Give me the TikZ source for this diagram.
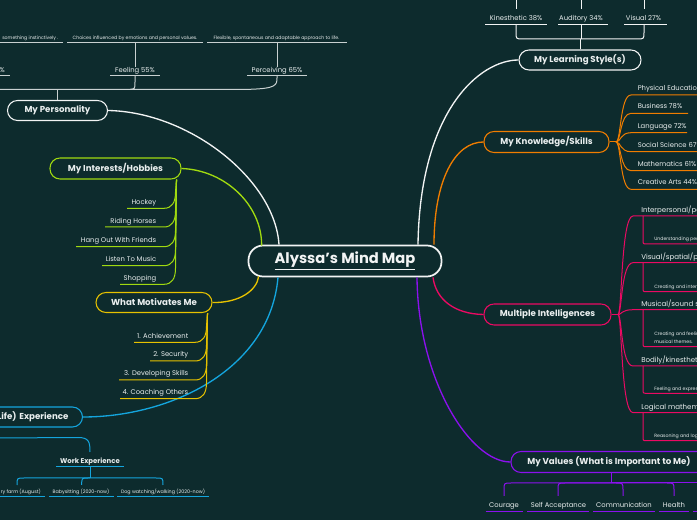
\documentclass[tikz,border=0pt]{standalone}
\usepackage{fontspec}
\setmainfont{Poppins}
\usetikzlibrary{calc}
\definecolor{bg}{HTML}{0D2B2D}
\definecolor{txt}{HTML}{E9EEEE}
\definecolor{cWhite}{HTML}{F2F4F4}
\definecolor{cGray}{HTML}{C9D1D1}
\definecolor{cLime}{HTML}{A0DA10}
\definecolor{cYellow}{HTML}{E6C200}
\definecolor{cBlue}{HTML}{14A5DD}
\definecolor{cOrange}{HTML}{F07D00}
\definecolor{cPink}{HTML}{EB0A63}
\definecolor{cPurple}{HTML}{8B11EE}
\tikzset{
 branch/.style={draw, rounded corners=7.5pt, line width=0.8pt, fill=bg, text=txt, font=\fontsize{6.5}{7.5}\selectfont\bfseries, inner sep=0pt, minimum height=15pt},
 item/.style={text=txt, font=\fontsize{5.1}{6}\selectfont, inner sep=0pt},
 head/.style={text=txt, font=\fontsize{5.3}{6}\selectfont, inner sep=0pt, anchor=mid west},
 tiny/.style={text=txt, font=\fontsize{3.5}{4.5}\selectfont, inner sep=0pt},
 conn/.style={line width=1pt},
 sub/.style={line width=0.75pt},
}
\begin{document}
\begin{tikzpicture}[x=0.75pt,y=-0.75pt]
\fill[bg] (0,0) rectangle (697,520);
\useasboundingbox (0,0) rectangle (697,520);
\clip (0,0) rectangle (697,520);

% ---------- central node
\node[draw=cWhite, line width=1.3pt, rounded corners=11pt, minimum width=144.75pt, minimum height=23.25pt, fill=bg, text=cWhite, inner sep=0pt, font=\fontsize{11}{12}\selectfont\bfseries] (ctr) at (345,261) {\underline{Alyssa’s Mind Map}};

% ---------- main branch boxes
\node[branch, draw=cWhite, minimum width=75pt] (pers) at (57.5,110.5) {My Personality};
\node[branch, draw=cWhite, minimum width=91.5pt] (learn) at (580,60) {My Learning Style(s)};
\node[branch, draw=cLime, minimum width=98.25pt, minimum height=15.75pt] (hobby) at (115.5,168.5) {My Interests/Hobbies};
\node[branch, draw=cYellow, minimum width=87pt] (motiv) at (154,302.5) {What Motivates Me};
\node[branch, draw=cBlue, anchor=east, inner xsep=10.5pt, text width=130pt, align=right] (exper) at (83,417) {(Life) Experience};
\node[branch, draw=cOrange, minimum width=93.75pt, minimum height=15.75pt] (know) at (546.5,142) {My Knowledge/Skills};
\node[branch, draw=cPink, minimum width=95.25pt, minimum height=15.75pt] (intel) at (547.5,314.5) {Multiple Intelligences};
\node[branch, draw=cPurple, minimum width=147pt, minimum height=15.75pt] (values) at (609,462) {My Values (What is Important to Me)};

% ---------- connectors to centre
\draw[conn, cWhite] (pers.east) .. controls (190,112) and (275,180) .. ($(ctr.north)+(-66,0)$);
\draw[conn, cWhite] (learn.west) .. controls (480,60) and (420,110) .. ($(ctr.north)+(73,0)$);
\draw[conn, cLime] (hobby.east) .. controls (225,170) and (262,205) .. ($(ctr.north west)+(14,1)$);
\draw[conn, cYellow] (motiv.east) .. controls (240,303) and (257,290) .. ($(ctr.south west)+(11,-1)$);
\draw[conn, cBlue] (exper.east) .. controls (170,417) and (270,370) .. ($(ctr.south)+(-67,0)$);
\draw[conn, cOrange] (know.west) .. controls (455,142) and (434,180) .. ($(ctr.north)+(89,0)$);
\draw[conn, cPink] (intel.west) .. controls (455,314) and (436,300) .. ($(ctr.south)+(88,0)$);
\draw[conn, cPurple] (values.west) .. controls (470,462) and (418,380) .. ($(ctr.south)+(72,0)$);

% ---------- Personality
\draw[sub, cGray] (pers.north) -- (57.5,89.3);
\draw[sub, cGray] (-5,89.3) -- (128,89.3) .. controls (135,89.3) .. (135,82) -- (135,75.7);
\draw[sub, cGray] (130,89.3) -- (250,89.3) .. controls (276,88.5) and (277,85) .. (277,78) -- (277,75.7);
\node[item, anchor=mid east] (pct) at (5,68.5) {\%};
\node[item, anchor=mid] (feel) at (135,68.5) {Feeling 55\%};
\node[item, anchor=mid] (perc) at (277,68.5) {Perceiving 65\%};
\draw[sub, cGray] (-2,75.7) -- (10,75.7);
\draw[sub, cGray] (110,75.7) -- (160,75.7);
\draw[sub, cGray] (247,75.7) -- (307,75.7);
\draw[sub, cGray] (feel.north) -- (135,43);
\draw[sub, cGray] (perc.north) -- (277,43);
\node[tiny, anchor=mid east] (d1) at (58.5,36) {something instinctively .};
\node[tiny, anchor=mid] (d2) at (135,36) {Choices influenced by emotions and personal values.};
\node[tiny, anchor=mid] (d3) at (276.5,36) {Flexible, spontaneous and adaptable approach to life.};
\draw[sub, cGray] (-2,43) -- (63,43);
\draw[sub, cGray] (67,43) -- (203,43);
\draw[sub, cGray] (207,43) -- (347,43);

% ---------- Learning styles
\draw[sub, cWhite] (learn.north) -- (580,39);
\draw[sub, cWhite] (516,25) -- (516,32) .. controls (516,39) .. (523,39) -- (637,39) .. controls (644,39) .. (644,32) -- (644,25);
\draw[sub, cWhite] (581,25) -- (581,39);
\node[item, anchor=mid] (kin) at (516,17) {Kinesthetic 38\%};
\node[item, anchor=mid] (aud) at (581,17) {Auditory 34\%};
\node[item, anchor=mid] (vis) at (643.5,17) {Visual 27\%};
\draw[sub, cWhite] (485,24.7) -- (547,24.7);
\draw[sub, cWhite] (558,24.7) -- (608,24.7);
\draw[sub, cWhite] (624,24.7) -- (667,24.7);
\draw[sub, cWhite] (516,-2) -- (516,9);
\draw[sub, cWhite] (581,-2) -- (581,9);
\draw[sub, cWhite] (644,-2) -- (644,9);

% ---------- Interests / Hobbies
\foreach \t/\y/\xl [count=\i] in {{Hockey}/208.3/127, {Riding Horses}/227/105, {Hang Out With Friends}/246.7/76, {Listen To Music}/265.7/102, {Shopping}/284.3/120}{
  \node[item, anchor=mid east] (hob\i) at (156.5,\y-7.6) {\t};
  \draw[sub, cLime] (\xl,\y) -- (164,\y) .. controls (172,\y) and (175.5,\y-6) .. (175.5,\y-16) -- ($(hobby.south east)+(-5,0)$);
}

% ---------- What motivates me
\foreach \t/\y/\xl [count=\i] in {{1. Achievement}/342.3/134, {2. Security}/361/150, {3. Developing Skills}/380/119, {4. Coaching Others}/398.7/120}{
  \node[item, anchor=mid east] (mot\i) at (188.5,\y-7.8) {\t};
  \draw[sub, cYellow] (\xl,\y) -- (195,\y) .. controls (203,\y) and (206.5,\y-6) .. (206.5,\y-16) -- ($(motiv.south east)+(-5,0)$);
}

% ---------- Experience
\coordinate (wtop) at (90,452);
\draw[sub, cBlue] (exper.south) .. controls ($(exper.south)+(0,10.5)$) .. ($(exper.south)+(10,10.5)$) -- (78,437.5) .. controls (89,437.5) and (90,442) .. (wtop);
\node[item, anchor=mid, font=\fontsize{5.2}{6}\selectfont\bfseries] (work) at (90,459.7) {Work Experience};
\draw[sub, cBlue] (56,467) -- (124,467);
\draw[sub, cBlue] (90,467) -- (90,478);
\draw[sub, cBlue] (90,478) -- (24,478) .. controls (17,478) .. (17,485);
\draw[sub, cBlue] (90,478) -- (88,478) .. controls (81.7,478) .. (81.7,485);
\draw[sub, cBlue] (90,478) -- (156,478) .. controls (163,478) .. (163,485);
\node[tiny, anchor=mid east, font=\fontsize{3.6}{4.5}\selectfont] (w1) at (41,490) {ry farm (August)};
\node[tiny, anchor=mid, font=\fontsize{3.6}{4.5}\selectfont] (w2) at (81,490) {Babysitting (2020-now)};
\node[tiny, anchor=mid, font=\fontsize{3.6}{4.5}\selectfont] (w3) at (163,490) {Dog watching/walking (2020-now)};
\draw[sub, cBlue] (-2,496.7) -- (45,496.7);
\draw[sub, cBlue] (49,496.7) -- (114,496.7);
\draw[sub, cBlue] (117,496.7) -- (209,496.7);

% ---------- Knowledge / Skills
\draw[sub, cOrange] (know.east) -- (618,142);
\foreach \t/\y/\xr [count=\i] in {{Physical Education}/95/705, {Business 78\%}/113.3/688, {Language 72\%}/132.7/687, {Social Science 67\%}/151.7/705, {Mathematics 61\%}/170.7/705, {Creative Arts 44\%}/189.3/705}{
  \node[item, anchor=mid west] (kn\i) at (637.5,\y-8) {\t};
  \draw[sub, cOrange] (616,142) .. controls (621,142) and (620,\y) .. (631,\y) -- (\xr,\y);
}

% ---------- Multiple intelligences
\draw[sub, cPink] (intel.east) -- (620,314.5);
\foreach \t/\y/\s/\ty [count=\i] in {{Interpersonal/people smart}/216/244/{Understanding people and their feelings}, {Visual/spatial/picture smart}/262.7/291.7/{Creating and interpreting images}, {Bodily/kinesthetic smart}/366/393.3/{Feeling and expressing through movement}, {Logical mathematical smart}/412.7/440.7/{Reasoning and logical thinking}}{
  \node[head] (mi\i) at (641,\y-7) {\t};
  \draw[sub, cPink] (618,314.5) .. controls (622,314.5) and (621,\y) .. (633,\y) -- (705,\y);
  \draw[sub, cPink] (643,\y) -- (643,\s-4) .. controls (643,\s) .. (647,\s) -- (705,\s);
  \node[tiny, anchor=mid west] (ms\i) at (654,\s-6.7) {\ty};
}
\node[head] (mus) at (641,302.7) {Musical/sound smart};
\draw[sub, cPink] (618,314.5) .. controls (622,314.5) and (621,309.7) .. (633,309.7) -- (705,309.7);
\draw[sub, cPink] (643,309.7) -- (643,342.7) .. controls (643,346.7) .. (647,346.7) -- (705,346.7);
\node[tiny, anchor=mid west] (muss1) at (654,331.7) {Creating and feeling sounds and rhythms in};
\node[tiny, anchor=mid west] (muss2) at (654,340.3) {musical themes.};

% ---------- Values
\coordinate (vb) at (611,483);
\draw[sub, cPurple] ($(values.south)+(2,0)$) -- (vb);
\draw[sub, cPurple] (vb) -- (511,483) .. controls (504,483) .. (504,490) -- (504,496);
\draw[sub, cPurple] (vb) -- (565,483) .. controls (558,483) .. (558,490) -- (558,496);
\draw[sub, cPurple] (vb) -- (616,483) .. controls (623,483) .. (623,490) -- (623,496);
\draw[sub, cPurple] (vb) -- (667,483) .. controls (674,483) .. (674,490) -- (674,496);
\draw[sub, cPurple] (vb) -- (705,483);
\node[item, anchor=mid] (v1) at (504,504.3) {Courage};
\node[item, anchor=mid] (v2) at (558.5,504.3) {Self Acceptance};
\node[item, anchor=mid] (v3) at (624,504.3) {Communication};
\node[item, anchor=mid] (v4) at (674,504.3) {Health};
\draw[sub, cPurple] (485.5,511.7) -- (523,511.7);
\draw[sub, cPurple] (527,511.7) -- (589,511.7);
\draw[sub, cPurple] (593,511.7) -- (655,511.7);
\draw[sub, cPurple] (659,511.7) -- (689,511.7);
\draw[sub, cPurple] (693,511.7) -- (705,511.7);
\end{tikzpicture}
\end{document}
